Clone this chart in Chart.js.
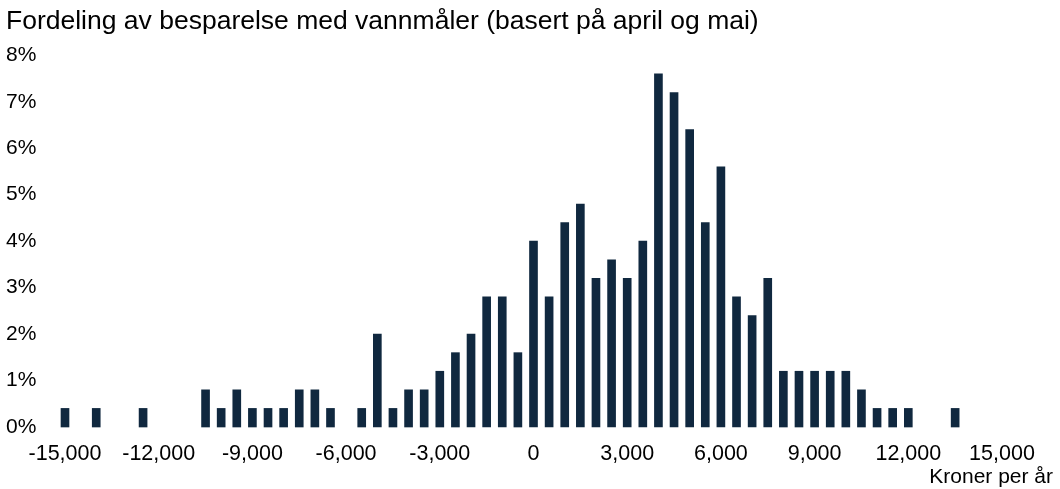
<!DOCTYPE html>
<html>
<head>
<meta charset="utf-8">
<script src="https://cdn.jsdelivr.net/npm/chart.js@4"></script>
<style>
  html, body { margin: 0; padding: 0; background: #fff; }
  #wrap { width: 1060px; height: 489px; }
</style>
</head>
<body>
<div id="wrap"><canvas id="chart" width="1060" height="489"></canvas></div>
<script>
// Besparelse per husstand (kr/år), midtpunkt for hvert intervall på 500 kr
const savingBins = [
  -15000, -14000, -12500, -10500, -10000, -9500, -9000, -8500, -8000, -7500,
  -7000, -6500, -5500, -5000, -4500, -4000, -3500, -3000, -2500, -2000,
  -1500, -1000, -500, 0, 500, 1000, 1500, 2000, 2500, 3000,
  3500, 4000, 4500, 5000, 5500, 6000, 6500, 7000, 7500, 8000,
  8500, 9000, 9500, 10000, 10500, 11000, 11500, 12000, 13500
];

// Andel av husstandene i hvert intervall (%)
const shareOfHouseholds = [
  0.4, 0.4, 0.4, 0.8, 0.4, 0.8, 0.4, 0.4, 0.4, 0.8,
  0.8, 0.4, 0.4, 2.0, 0.4, 0.8, 0.8, 1.2, 1.6, 2.0,
  2.8, 2.8, 1.6, 4.0, 2.8, 4.4, 4.8, 3.2, 3.6, 3.2,
  4.0, 7.6, 7.2, 6.4, 4.4, 5.6, 2.8, 2.4, 3.2, 1.2,
  1.2, 1.2, 1.2, 1.2, 0.8, 0.4, 0.4, 0.4, 0.4
];

const xTickValues = [-15000, -12000, -9000, -6000, -3000, 0, 3000, 6000, 9000, 12000, 15000];
const yTickValues = [0, 1, 2, 3, 4, 5, 6, 7, 8];

const barColor = '#10283f';
const textColor = '#000';
const fontFamily = '"Liberation Sans", Arial, Helvetica, sans-serif';

// Enhetstekst nede til høyre under x-aksen
const unitCaption = {
  id: 'unitCaption',
  afterDraw(chart) {
    const { ctx } = chart;
    ctx.save();
    ctx.font = '21px ' + fontFamily;
    ctx.fillStyle = textColor;
    ctx.textAlign = 'right';
    ctx.textBaseline = 'alphabetic';
    ctx.fillText('Kroner per år', 1053, 483);
    ctx.restore();
  }
};

const ctx = document.getElementById('chart').getContext('2d');

new Chart(ctx, {
  type: 'bar',
  data: {
    datasets: [{
      label: 'Andel',
      data: savingBins.map((x, i) => ({ x: x, y: shareOfHouseholds[i] })),
      backgroundColor: barColor,
      borderWidth: 0,
      barThickness: 8,
      clip: false
    }]
  },
  options: {
    responsive: false,
    animation: false,
    layout: { padding: { left: 6, right: 58, top: 4, bottom: 0 } },
    plugins: {
      legend: { display: false },
      tooltip: { enabled: false },
      title: {
        display: true,
        text: 'Fordeling av besparelse med vannmåler (basert på april og mai)',
        align: 'start',
        color: textColor,
        font: { family: fontFamily, size: 26.5, weight: 'normal' },
        padding: { top: 2, bottom: 17.5 }
      }
    },
    scales: {
      x: {
        type: 'linear',
        offset: false,
        min: -15000,
        max: 15000,
        grid: { display: false, drawTicks: false },
        border: { display: false },
        afterBuildTicks: axis => { axis.ticks = xTickValues.map(v => ({ value: v })); },
        afterFit: axis => {
          axis.height = 62;
          axis.paddingLeft = 0;
          axis.paddingRight = 0;
        },
        ticks: {
          padding: 14,
          color: textColor,
          font: { family: fontFamily, size: 21.5 },
          maxRotation: 0,
          autoSkip: false,
          callback: v => v.toLocaleString('en-US')
        }
      },
      y: {
        min: 0,
        max: 8,
        grid: { display: false, drawTicks: false },
        border: { display: false },
        afterBuildTicks: axis => { axis.ticks = yTickValues.map(v => ({ value: v })); },
        afterFit: axis => {
          axis.width = 59;
          axis.paddingTop = 0;
          axis.paddingBottom = 0;
        },
        ticks: {
          crossAlign: 'far',
          color: textColor,
          font: { family: fontFamily, size: 21 },
          callback: v => v + '%'
        }
      }
    }
  },
  plugins: [unitCaption]
});
</script>
</body>
</html>
